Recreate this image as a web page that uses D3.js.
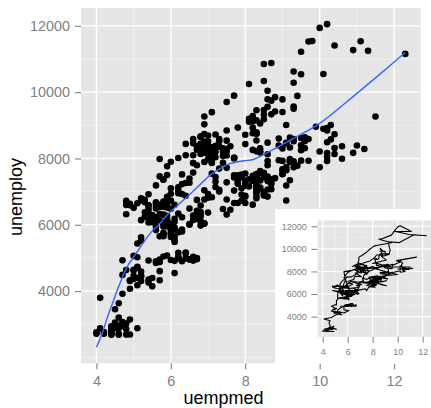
<!DOCTYPE html>
<html><head><meta charset="utf-8">
<script src="https://cdn.jsdelivr.net/npm/d3@7"></script>
<style>
body{margin:0;background:#fff}
svg{display:block}
text{font-family:"Liberation Sans",Arial,Helvetica,sans-serif}
</style>
</head><body>
<svg id="c" width="431" height="408"></svg>
<script>
// economics data, monthly 1967-07 .. 2007-04 (time order)
const uempmed = [
4.5,4.7,4.6,4.9,4.7,4.8,
5.1,4.5,4.1,4.6,4.4,4.4,4.5,4.2,4.6,4.8,4.4,4.4,
4.4,4.9,4.0,4.0,4.2,4.4,4.4,4.4,4.7,4.5,4.8,4.6,
4.6,4.5,4.6,4.1,4.7,4.9,5.1,5.4,5.2,5.2,5.6,5.9,
6.2,6.3,6.4,6.5,6.7,5.7,6.2,6.4,5.8,6.5,6.4,6.2,
6.2,6.6,6.6,6.7,6.6,5.4,6.1,6.0,5.6,5.7,5.7,6.1,
5.7,5.2,5.5,5.0,4.9,5.0,5.2,4.9,5.4,5.5,5.1,4.7,
5.0,5.1,4.8,5.0,5.1,4.7,5.0,5.1,5.1,5.2,5.2,5.6,
5.9,6.3,7.0,7.4,8.0,8.4,8.6,9.2,8.6,9.2,8.6,9.1,
9.0,8.2,8.7,8.2,8.3,7.8,7.7,7.9,7.8,7.7,8.4,8.0,
7.5,7.2,7.2,7.3,7.9,6.2,7.1,7.0,6.7,6.9,7.0,6.8,
6.5,6.7,6.2,6.1,5.7,6.0,5.8,5.8,5.6,5.9,5.5,5.6,
5.9,5.9,5.9,5.4,5.6,5.6,5.9,4.8,5.5,5.5,5.3,5.7,
5.3,5.8,6.0,5.8,5.7,6.4,7.0,7.5,7.7,7.5,7.7,7.5,
7.4,7.1,7.1,7.4,6.9,6.6,7.1,7.2,6.8,6.8,6.9,6.9,
7.1,7.5,7.7,8.1,8.5,9.5,8.5,8.7,9.5,9.7,10.0,10.2,
11.1,9.8,10.4,10.9,12.3,11.3,10.1,9.3,9.3,9.4,9.3,8.7,
9.1,8.3,8.3,8.2,9.1,7.5,7.5,7.3,7.6,7.2,7.2,7.3,
6.8,7.1,7.1,6.9,6.9,6.6,6.9,7.1,6.9,7.1,7.0,6.8,
6.7,6.9,6.8,6.7,6.8,7.0,6.9,7.1,7.4,7.0,7.1,7.1,
6.9,6.6,6.6,7.1,6.6,6.5,6.5,6.4,6.0,6.3,6.2,6.0,
6.2,6.3,6.4,5.9,5.9,5.8,6.1,5.9,5.7,5.6,5.7,5.9,
5.6,5.4,5.4,5.4,5.3,5.4,5.6,5.0,4.9,4.9,4.8,4.8,
5.3,5.1,4.8,5.2,5.2,5.4,5.4,5.6,5.8,5.7,5.9,6.0,
6.2,6.7,6.6,6.4,6.9,7.0,7.3,6.8,7.2,7.5,7.8,8.1,
8.2,8.3,8.5,8.8,8.7,8.6,8.8,8.6,9.0,9.0,9.3,8.6,
8.5,8.5,8.4,8.1,8.3,8.2,8.2,8.3,8.0,8.3,8.3,8.6,
9.2,9.3,9.1,9.2,9.3,9.0,8.9,9.2,10.0,9.0,8.7,8.0,
8.1,8.3,8.3,9.1,7.9,8.5,8.3,7.9,8.2,8.0,8.3,8.3,
7.8,8.3,8.6,8.6,8.3,8.3,8.4,8.5,8.3,7.7,7.8,7.8,
8.1,7.9,8.3,8.0,8.0,8.3,7.8,8.2,7.7,7.6,7.5,7.4,
7.0,6.8,6.7,6.0,6.9,6.7,6.8,6.7,5.8,6.6,6.8,6.9,
6.8,6.8,6.2,6.5,6.3,5.8,6.5,6.0,6.1,6.2,5.8,5.8,
5.8,6.1,6.0,6.1,5.8,5.7,6.0,6.3,5.2,6.1,6.1,6.0,
5.8,6.1,6.6,5.9,6.3,6.0,6.8,6.9,7.2,7.3,7.7,8.2,
8.4,8.3,8.4,8.9,9.5,11.0,8.9,9.0,9.5,9.6,9.3,9.6,
9.6,9.5,9.7,10.2,9.9,11.5,10.3,10.1,10.2,10.4,10.3,10.4,
10.6,10.2,10.2,10.9,10.0,11.2,10.4,10.6,10.2,10.2,9.7,9.5,
9.4,9.2,9.3,9.0,9.1,9.0,8.8,9.2,8.4,8.6,8.5,8.7,
8.6,9.1,8.7,8.4,8.5,7.3,8.0,8.4,8.0,7.9,8.3,7.5,
8.3,8.5,9.1,8.6
];
const unemploy = [
2944,2945,2958,3143,3066,3018,
2878,3001,2877,2709,2740,2938,2883,2768,2686,2689,2715,2685,
2718,2692,2712,2758,2713,2816,2868,2856,3040,3049,2856,2884,
3201,3453,3635,3797,3919,4071,4175,4256,4456,4591,4898,5076,
4986,4903,4987,4959,4996,4949,5035,5134,5042,4954,5161,5154,
5019,4928,5038,4959,4922,4923,4913,4939,4849,4875,4602,4543,
4326,4452,4394,4459,4329,4363,4305,4305,4350,4144,4396,4489,
4644,4731,4634,4618,4705,4927,5063,5022,5437,5523,6140,6636,
7501,7520,7978,8210,8433,8220,8127,7928,7923,7897,7794,7744,
7534,7326,7230,7330,7053,7322,7490,7518,7380,7430,7620,7545,
7280,7443,7307,7059,6911,7134,6829,6925,6751,6763,6815,6386,
6489,6318,6337,6180,6127,6028,6309,6080,6125,5947,6077,6228,
6109,6173,6109,6069,5840,5959,5996,6320,6190,6296,6238,6325,
6683,6702,6729,7358,7984,8098,8363,8281,8021,8088,8023,7718,
8071,8051,7982,7869,8174,8098,7863,8036,8230,8646,9029,9267,
9397,9705,9895,10244,10335,10538,10849,10881,11217,11529,11938,12051,
11534,11545,11408,11268,11154,11246,10548,10623,10282,9887,9499,9331,
9008,8791,8746,8762,8456,8226,8537,8519,8367,8381,8198,8358,
8423,8321,8339,8395,8302,8460,8513,8196,8248,8298,8128,8138,
7795,8402,8383,8364,8439,8508,8319,8135,8310,8243,8159,7883,
7892,7865,7862,7542,7574,7398,7268,7261,7102,7227,7035,6936,
6953,6929,6876,6601,6779,6546,6605,6843,6604,6568,6537,6518,
6682,6359,6205,6468,6375,6577,6495,6511,6590,6630,6725,6667,
6752,6651,6598,6797,6742,6590,6922,7188,7368,7459,7764,7901,
8015,8265,8586,8439,8736,8692,8586,8666,8722,8842,8931,9198,
9283,9454,9460,9415,9744,10040,9850,9787,9781,9398,9565,9557,
9325,9183,9056,9110,9149,9121,8930,8763,8714,8750,8542,8477,
8630,8583,8470,8331,7915,7927,7946,7933,7734,7632,7375,7230,
7375,7187,7153,7645,7430,7427,7527,7484,7478,7328,7426,7423,
7491,7313,7318,7415,7423,7095,7337,6882,6979,7031,7236,7253,
7158,7102,7000,6873,6655,6799,6655,6608,6656,6454,6308,6476,
6368,6306,6422,5941,6047,6212,6259,6179,6300,6280,6100,6032,
5976,6111,5783,6004,5796,5951,6025,5838,5915,5778,5716,5653,
5708,5858,5733,5481,5758,5651,5747,5853,5625,5534,5639,5634,
6023,6089,6141,6271,6226,6484,6583,7042,7142,7694,8003,8258,
8182,8215,8304,8599,8399,8393,8390,8304,8251,8307,8520,8640,
8520,8618,8588,8842,8957,9266,9011,8896,8921,8732,8576,8317,
8370,8167,8491,8170,8212,8286,8136,7990,7927,8061,7932,7934,
7784,7980,7737,7672,7651,7524,7406,7345,7553,7453,7566,7279,
7064,7184,7072,7120,6980,7001,7175,7091,6847,6727,6872,6762,
7116,6927,6731,6850
];
// loess smooth
const smoothX = [4.0, 4.15, 4.3, 4.46, 4.55, 4.82, 5.0, 5.44, 5.67, 5.94, 6.34, 6.7, 7.06, 7.33, 7.6, 7.95, 8.22, 8.58, 9.3, 10.0, 10.73, 11.54, 12.3];
const smoothY = [2310, 2710, 3230, 3720, 4000, 4725, 5030, 5735, 5995, 6340, 6745, 7120, 7497, 7700, 7850, 7930, 7970, 8170, 8606, 9060, 9712, 10468, 11194];

const xTicks = [4, 6, 8, 10, 12];
const yTicks = [4000, 6000, 8000, 10000, 12000];
const xMinor = [5, 7, 9, 11];
const yMinor = [2000, 3000, 5000, 7000, 9000, 11000];
const xTitle = "uempmed";
const yTitle = "unemploy";

const points = uempmed.map((u, i) => ({u, v: unemploy[i]}));
const smooth = smoothX.map((u, i) => ({u, v: smoothY[i]}));
function expand(ext, f = 0.05) { const r = ext[1] - ext[0]; return [ext[0] - r * f, ext[1] + r * f]; }

const svg = d3.select("#c");
const GREY = "#7F7F7F";

function drawPanel(g, x, y, opt) {
  const [x0, x1] = x.range(), [y0, y1] = y.range();
  const clipId = opt.id + "-clip";
  svg.append("clipPath").attr("id", clipId).append("rect")
    .attr("x", x0).attr("y", y1).attr("width", x1 - x0).attr("height", y0 - y1);
  g.append("rect").attr("x", x0).attr("y", y1).attr("width", x1 - x0).attr("height", y0 - y1)
    .attr("fill", "#E5E5E5");
  const dx = x.domain(), dy = y.domain();
  const inX = v => v >= dx[0] && v <= dx[1], inY = v => v >= dy[0] && v <= dy[1];
  const gg = g.append("g").attr("clip-path", `url(#${clipId})`);
  gg.selectAll(".mx").data(xMinor.filter(inX)).join("line")
    .attr("x1", d => x(d)).attr("x2", d => x(d)).attr("y1", y1).attr("y2", y0)
    .attr("stroke", "#F2F2F2").attr("stroke-width", opt.minorW);
  gg.selectAll(".my").data(yMinor.filter(inY)).join("line")
    .attr("y1", d => y(d)).attr("y2", d => y(d)).attr("x1", x0).attr("x2", x1)
    .attr("stroke", "#F2F2F2").attr("stroke-width", opt.minorW);
  gg.selectAll(".Mx").data(xTicks.filter(inX)).join("line")
    .attr("x1", d => x(d)).attr("x2", d => x(d)).attr("y1", y1).attr("y2", y0)
    .attr("stroke", "#fff").attr("stroke-width", opt.majorW);
  gg.selectAll(".My").data(yTicks.filter(inY)).join("line")
    .attr("y1", d => y(d)).attr("y2", d => y(d)).attr("x1", x0).attr("x2", x1)
    .attr("stroke", "#fff").attr("stroke-width", opt.majorW);

  const ax = g.append("g").attr("transform", `translate(0,${y0})`)
    .call(d3.axisBottom(x).tickValues(xTicks).tickSize(opt.tick).tickPadding(opt.xPad).tickFormat(d3.format("d")));
  const ay = g.append("g").attr("transform", `translate(${x0},0)`)
    .call(d3.axisLeft(y).tickValues(yTicks).tickSize(opt.tick).tickPadding(opt.yPad).tickFormat(d3.format("d")));
  [ax, ay].forEach(a => {
    a.select(".domain").remove();
    a.selectAll("line").attr("stroke", GREY).attr("stroke-width", opt.tickW);
    a.selectAll("text").attr("fill", GREY).style("font-size", opt.font + "px")
      .style("font-family", '"Liberation Sans",Arial,Helvetica,sans-serif');
  });
  return gg;
}

// ---- main plot ----
const x = d3.scaleLinear().domain(expand(d3.extent(uempmed))).range([81, 420.7]);
const y = d3.scaleLinear().domain(expand(d3.extent(unemploy.concat(smoothY)))).range([363.3, 8]);
const main = svg.append("g");
const mg = drawPanel(main, x, y, {id: "main", minorW: 0.7, majorW: 1.4, tick: 6, xPad: 6.5, yPad: 5, tickW: 1.1, font: 14.4});
mg.selectAll("circle").data(points).join("circle")
  .attr("cx", d => x(d.u)).attr("cy", d => y(d.v)).attr("r", 3.3).attr("fill", "#000");
mg.append("path").datum(smooth)
  .attr("d", d3.line().x(d => x(d.u)).y(d => y(d.v)).curve(d3.curveCatmullRom.alpha(0.5)))
  .attr("fill", "none").attr("stroke", "#3366FF").attr("stroke-width", 1.4);

main.append("text").attr("x", 223.5).attr("y", 404).attr("text-anchor", "middle")
  .style("font-size", "18px").attr("fill", "#000").text(xTitle);
main.append("text").attr("transform", "translate(22,197) rotate(-90)").attr("text-anchor", "middle")
  .style("font-size", "18px").attr("fill", "#000").text(yTitle);

// ---- inset ----
const inset = svg.append("g");
inset.append("rect").attr("x", 275).attr("y", 209).attr("width", 156).attr("height", 155).attr("fill", "#fff");
const xi = d3.scaleLinear().domain(expand(d3.extent(uempmed))).range([317.5, 431.6]);
const yi = d3.scaleLinear().domain(expand(d3.extent(unemploy))).range([336.8, 220.4]);
const ig = drawPanel(inset, xi, yi, {id: "inset", minorW: 0.5, majorW: 1.1, tick: 6, xPad: 5.5, yPad: 4.8, tickW: 1, font: 9});
ig.append("path").datum(points)
  .attr("d", d3.line().x(d => xi(d.u)).y(d => yi(d.v)))
  .attr("fill", "none").attr("stroke", "#000").attr("stroke-width", 1.1).attr("stroke-linejoin", "round");
</script>
</body></html>
